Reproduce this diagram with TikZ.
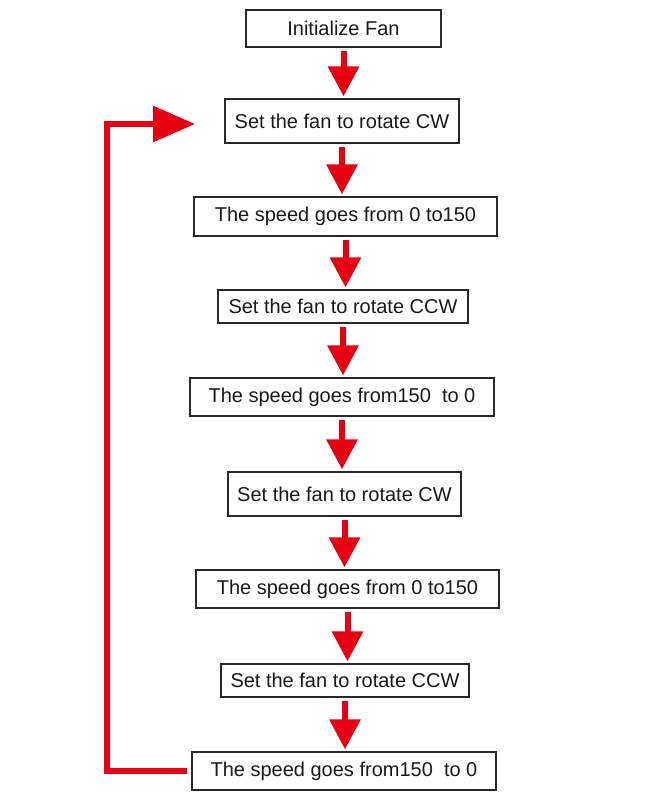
\documentclass[tikz,border=0pt]{standalone}
\usepackage{fontspec}
\setmainfont{Liberation Sans}
\usetikzlibrary{arrows.meta}
\definecolor{fanred}{RGB}{230,0,18}
\definecolor{boxline}{RGB}{40,40,40}
\begin{document}
\begin{tikzpicture}[x=1pt,y=-1pt,
  stepbox/.style={draw=boxline,line width=1.2pt,inner sep=0pt,font=\fontsize{20}{24}\selectfont,text=black!90},
  flowarrow/.style={draw=fanred,line width=6pt,-{Triangle[width=30pt,length=30pt,fill=fanred]},shorten <=3pt,shorten >=2pt},
  looparrow/.style={draw=fanred,line width=6pt,-{Triangle[width=35pt,length=42pt,fill=fanred]}}]
\useasboundingbox (0,0) rectangle (655,801);
\node[stepbox,minimum width=195pt,minimum height=37pt] (n1) at (343.5,28.5) {Initialize Fan};
\node[stepbox,minimum width=234pt,minimum height=44pt] (n2) at (342,121) {Set the fan to rotate CW};
\node[stepbox,minimum width=303pt,minimum height=39pt] (n3) at (345.5,216.5) {The speed goes from 0 to150};
\node[stepbox,minimum width=250pt,minimum height=33pt] (n4) at (343,306.5) {Set the fan to rotate CCW};
\node[stepbox,minimum width=304pt,minimum height=38pt] (n5) at (342,397) {The speed goes from150~ to 0};
\node[stepbox,minimum width=233pt,minimum height=44pt] (n6) at (344.5,494) {Set the fan to rotate CW};
\node[stepbox,minimum width=303pt,minimum height=38pt] (n7) at (347.5,589) {The speed goes from 0 to150};
\node[stepbox,minimum width=248pt,minimum height=33pt] (n8) at (345,680.5) {Set the fan to rotate CCW};
\node[stepbox,minimum width=304pt,minimum height=38pt] (n9) at (344,771) {The speed goes from150~ to 0};
\foreach \a/\b in {n1/n2,n2/n3,n3/n4,n4/n5,n5/n6,n6/n7,n7/n8,n8/n9}{
  \draw[flowarrow] (\a.south) -- (\a.south |- \b.north);
}
\coordinate (tip) at (195,124);
\draw[looparrow] ([xshift=-4pt]n9.west) -| (107,124) -- (tip);
\end{tikzpicture}
\end{document}
